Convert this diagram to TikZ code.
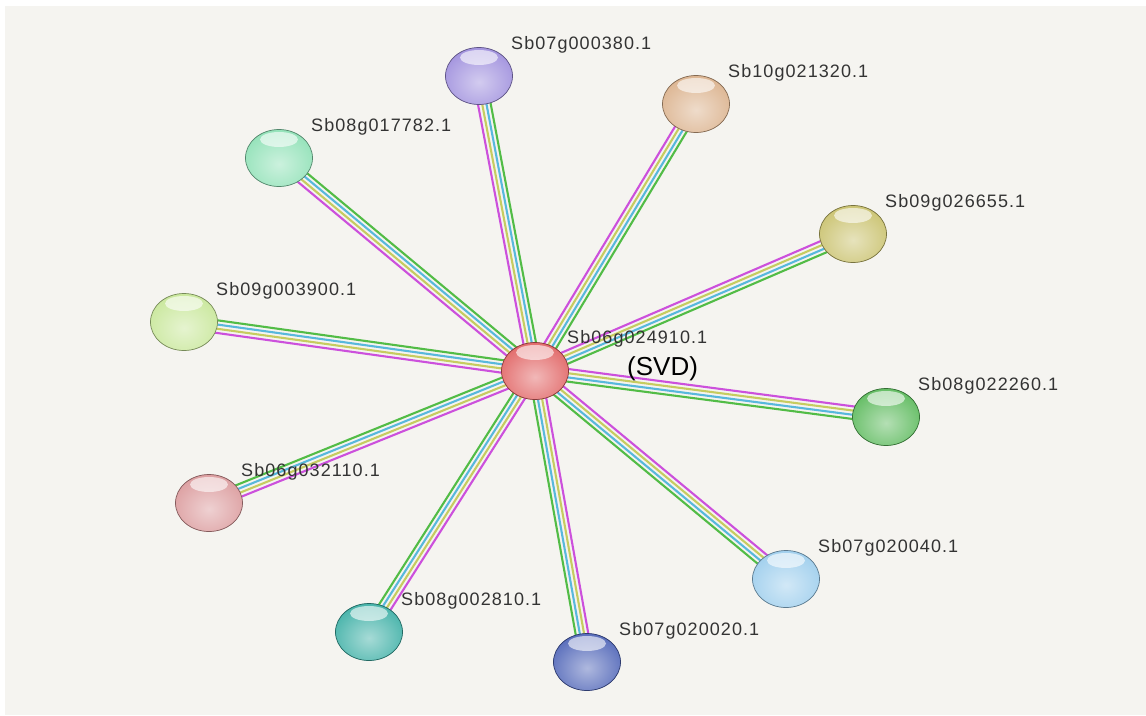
\documentclass[tikz,border=0pt]{standalone}
\usepackage{fontspec}
\setmainfont{Liberation Sans}
\newfontfamily\lblfont[LetterSpace=6]{Liberation Sans}
\usetikzlibrary{shapes.geometric,positioning,calc}

\definecolor{panel}{HTML}{F5F4F0}
\definecolor{evpink}{HTML}{CC50DC}
\definecolor{evyellow}{HTML}{C6CC60}
\definecolor{evblue}{HTML}{58B8DC}
\definecolor{evgreen}{HTML}{52BC46}

\definecolor{cred}{HTML}{E06060}
\definecolor{cpurple}{HTML}{9C8CDC}
\definecolor{ctan}{HTML}{DAB08A}
\definecolor{caqua}{HTML}{8CE0B4}
\definecolor{colive}{HTML}{C8C06A}
\definecolor{clime}{HTML}{C6E696}
\definecolor{cgreen}{HTML}{58B858}
\definecolor{cpink}{HTML}{DA989A}
\definecolor{cskyblue}{HTML}{9ACCEC}
\definecolor{cteal}{HTML}{3AAEA4}
\definecolor{cnavy}{HTML}{4C62B6}

\pgfdeclarelayer{back}
\pgfdeclarelayer{edges}
\pgfsetlayers{back,edges,main}

\tikzset{prot/.style={ellipse, minimum width=67pt, minimum height=57pt, inner sep=0pt,
  draw=#1!60!black, line width=0.7pt, fill=#1,
  path picture={
    \shade[inner color=#1!45!white, outer color=#1] ([yshift=-6pt]path picture bounding box.center) ellipse (46pt and 40pt);
    \fill[white, opacity=0.6] ([yshift=-10pt]path picture bounding box.north) ellipse (19pt and 7.5pt);
  }}}
\tikzstyle{lbl} = [inner sep=0pt, text=black!80, font=\lblfont\fontsize{18}{18}\selectfont]
\tikzstyle{svdlbl} = [inner sep=0pt, text=black, font=\fontsize{26}{26}\selectfont]

% four evidence lines side by side
\newcommand{\evlink}[2]{%
  \foreach \col/\off in {evpink/6.3,evyellow/2.1,evblue/-2.1,evgreen/-6.3}
    \draw[\col, line width=2.1pt] ($(#1)!\off pt!90:(#2)$) -- ($(#2)!\off pt!-90:(#1)$);
}

\begin{document}
\begin{tikzpicture}[x=1pt,y=-1pt]
\useasboundingbox (0,0) rectangle (1146,715);
\begin{pgfonlayer}{back}
\fill[white] (0,0) rectangle (1146,715);
\fill[panel] (5,6) rectangle (1146,715);
\end{pgfonlayer}

\node[prot=cred] (svd) at (535,371) {};
\node[prot=cpurple] (s07a) at (479,76) {};
\node[prot=ctan] (s10) at (696,104) {};
\node[prot=caqua] (s08a) at (279,158) {};
\node[prot=colive] (s09a) at (853,234) {};
\node[prot=clime] (s09b) at (184,322) {};
\node[prot=cgreen] (s08b) at (886,417) {};
\node[prot=cpink] (s06) at (209,503) {};
\node[prot=cskyblue] (s07b) at (786,579) {};
\node[prot=cteal] (s08c) at (369,632) {};
\node[prot=cnavy] (s07c) at (587,662) {};

\node[lbl, right=32pt, yshift=32pt] (svd-l) at (svd) {Sb06g024910.1};
\node[svdlbl, right=92pt, yshift=2pt] (svd-n) at (svd) {(SVD)};
\node[lbl, right=32pt, yshift=31pt] (s07a-l) at (s07a) {Sb07g000380.1};
\node[lbl, right=32pt, yshift=31pt] (s10-l) at (s10) {Sb10g021320.1};
\node[lbl, right=32pt, yshift=31pt] (s08a-l) at (s08a) {Sb08g017782.1};
\node[lbl, right=32pt, yshift=31pt] (s09a-l) at (s09a) {Sb09g026655.1};
\node[lbl, right=32pt, yshift=31pt] (s09b-l) at (s09b) {Sb09g003900.1};
\node[lbl, right=32pt, yshift=31pt] (s08b-l) at (s08b) {Sb08g022260.1};
\node[lbl, right=32pt, yshift=31pt] (s06-l) at (s06) {Sb06g032110.1};
\node[lbl, right=32pt, yshift=31pt] (s07b-l) at (s07b) {Sb07g020040.1};
\node[lbl, right=32pt, yshift=31pt] (s08c-l) at (s08c) {Sb08g002810.1};
\node[lbl, right=32pt, yshift=31pt] (s07c-l) at (s07c) {Sb07g020020.1};

\begin{pgfonlayer}{edges}
\foreach \n in {s07a,s10,s08a,s09a,s09b,s08b,s06,s07b,s08c,s07c}
  \evlink{svd}{\n};
\end{pgfonlayer}

\end{tikzpicture}
\end{document}
